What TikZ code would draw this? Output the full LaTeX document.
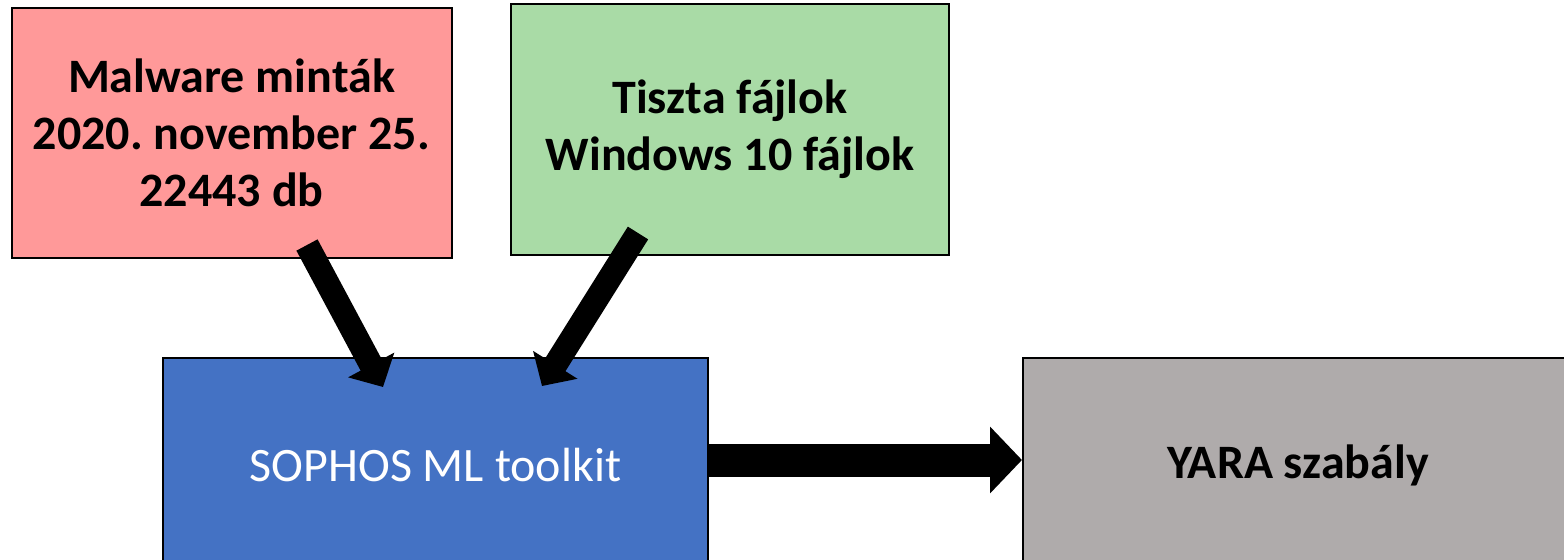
\documentclass[tikz,border=0pt]{standalone}
\usepackage{fontspec}
\setmainfont{Carlito}
\usetikzlibrary{arrows.meta,positioning}
\definecolor{malwarered}{RGB}{255,153,153}
\definecolor{cleangreen}{RGB}{169,219,166}
\definecolor{sophosblue}{RGB}{68,114,196}
\definecolor{yaragray}{RGB}{175,171,171}
\frenchspacing
\tikzset{box/.style={rectangle,draw=black,line width=1pt,align=center,
font=\fontsize{24}{28.5}\selectfont\bfseries},
malware/.style={box,fill=malwarered,minimum width=220pt,minimum height=125pt},
clean/.style={box,fill=cleangreen,minimum width=219pt,minimum height=125.5pt},
toolkit/.style={box,fill=sophosblue,text=white,font=\fontsize{24}{28.5}\selectfont,
minimum width=272.5pt,minimum height=107pt},
rule/.style={box,fill=yaragray,minimum width=275pt,minimum height=107pt},
fatarrow/.style={line width=12pt,-{Triangle[width=25.5pt,length=12.5pt]}},
widearrow/.style={line width=16.5pt,-{Triangle[width=32.5pt,length=16pt]}}}
\begin{document}
\begin{tikzpicture}[x=0.5pt,y=-0.5pt]
  \clip (0,0) rectangle (1564,559);
  \fill [white] (0,0) rectangle (1564,559);
  \node (malware) [malware] at (231.5,133) {Malware minták\\2020. november 25.\\22443 db};
  \node (clean) [clean] at (730,129.5) {Tiszta fájlok\\Windows 10 fájlok};
  \node (sophos) [toolkit] at (435.5,465) {SOPHOS ML toolkit};
  \node (yara) [rule] at (1298,465) {YARA szabály};

  \draw [fatarrow] ([shift={(75.5,-14)}]malware.south) -- ([shift={(-52.5,30)}]sophos.north);
  \draw [fatarrow] ([shift={(-92,-23)}]clean.south) -- ([shift={(106.5,29)}]sophos.north);
  \draw [widearrow] ([yshift=2.5pt]sophos.east) -- ([yshift=2.5pt]yara.west);
\end{tikzpicture}
\end{document}
